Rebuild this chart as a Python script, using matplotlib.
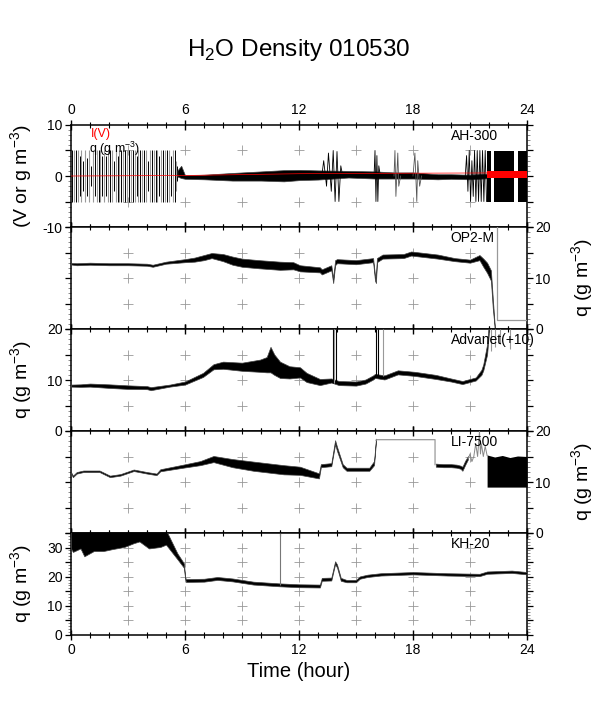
import numpy as np
import matplotlib
matplotlib.use("Agg")
import matplotlib.pyplot as plt
from matplotlib.ticker import MultipleLocator, FuncFormatter

plt.rcParams['font.family'] = ['Liberation Sans', 'DejaVu Sans']
plt.rcParams['mathtext.fontset'] = 'custom'
plt.rcParams['mathtext.rm'] = 'Liberation Sans'

# ---------------- data ----------------
title = "H$_2$O Density 010530"
panel_names = ["AH-300", "OP2-M", "Advanet(+10)", "LI-7500", "KH-20"]
x_ticks = [0, 6, 12, 18, 24]

# AH-300 : saturated oscillation 0-5.6 h (black and grey strokes)
ah_osc_t_black = [0.05, 0.25, 0.45, 0.65, 0.85, 1.05, 1.25, 1.45, 1.65, 1.85, 2.05, 2.25, 2.45, 2.65,
                  2.85, 3.05, 3.25, 3.45, 3.65, 3.85, 4.05, 4.25, 4.45, 4.65, 4.85, 5.05, 5.25, 5.45, 5.6]
ah_osc_lo_black = [-5, -5, -4, -3, -4, -2, -4, -5, -4, -4, -5, -3, -5, -5,
                   -5, -5, -5, -4, -5, -5, -3, -5, -5, -4, -5, -5, -4, -5, -1]
ah_osc_hi_black = [5, 5, 4, 3, 3.5, 2, 4.5, 5, 4, 4, 5, 3, 4, 5,
                   5, 5, 5, 4, 5, 5, 3, 5, 5, 4, 5, 5, 4, 5, 2]
ah_osc_t_grey = [0.15, 0.35, 0.55, 0.75, 0.95, 1.15, 1.35, 1.55, 1.75, 1.95, 2.15, 2.35, 2.55, 2.75,
                 2.95, 3.15, 3.35, 3.55, 3.75, 3.95, 4.15, 4.35, 4.55, 4.75, 4.95, 5.15, 5.35, 5.52]
ah_osc_lo_grey = [-5, -5, -5, -5, -5, -5, -5, -5, -5, -5, -5, -5, -5, -5,
                  -5, -5, -5, -5, -5, -5, -5, -5, -5, -5, -5, -5, -5, -3]
ah_osc_hi_grey = [5, 5, 5, 5, 5, 5, 5, 5, 5, 5, 5, 5, 5, 5,
                  5, 5, 5, 5, 5, 5, 5, 5, 5, 5, 5, 5, 5, 3]
# AH-300 : noise band
ah_t = [5.6, 5.8, 6.0, 7.0, 8.5, 10.0, 11.2, 12.05, 13.0, 14.6, 16.0, 17.0, 18.0, 19.3, 20.0, 21.0, 21.9]
ah_c = [0.5, 0.8, -0.2, -0.2, -0.15, 0.0, 0.05, 0.2, 0.2, 0.35, 0.2, 0.1, 0.1, -0.15, -0.1, -0.2, 0.0]
ah_h = [0.6, 1.2, 0.35, 0.45, 0.75, 0.9, 1.1, 1.0, 0.9, 0.65, 0.7, 0.6, 0.6, 0.5, 0.45, 0.45, 0.45]
# AH-300 : spike bursts
ah_b1_t = [13.2, 13.3, 13.45, 13.55, 13.7, 13.8, 13.9, 14.0, 14.1, 14.2, 14.3]
ah_b1_v = [0, 3, -2, 4.5, -3, 5, -5, 4.8, -5, 2, 0]
ah_b2_t = [15.95, 16.0, 16.05, 16.1, 16.15, 16.2, 16.28]
ah_b2_v = [0, 5, -5, 4, -5, 2, 0]
ah_b3_t = [17.0, 17.05, 17.1, 17.2, 17.25, 17.35]
ah_b3_v = [0, 5, -4, 4.5, -2, 0]
ah_b4_t = [18.0, 18.1, 18.2, 18.25, 18.35, 18.45]
ah_b4_v = [0, 4.5, -5, 3, -2, 0]
ah_b5_t = [20.75, 20.82, 20.89, 20.96, 21.03, 21.10, 21.17, 21.24, 21.31, 21.38,
           21.45, 21.52, 21.59, 21.66, 21.73, 21.80, 21.87]
ah_b5_v = [0, 4, -3, 5, -5, 3, -4, 5, -5, 5, -5, 5, -5, 5, -5, 5, -5]
ah_block_start = [21.9, 22.25, 23.5]
ah_block_end = [22.1, 23.3, 24.0]
# AH-300 : I(V) red
iv_t = [0, 6, 12, 18, 21.9]
iv_v = [0.0, 0.1, 0.45, 0.55, 0.6]
iv_thick_t = [21.9, 24.0]
iv_thick_lo = [-0.3, -0.3]
iv_thick_hi = [1.0, 1.0]

# OP2-M
op_t = [0, 0.3, 1, 2, 3, 4, 4.3, 5, 6, 6.5, 7, 7.4, 8, 8.5, 9, 9.9, 11, 11.7, 12.05, 13.1,
        13.2, 13.7, 13.8, 13.9, 14.0, 15, 15.9, 16.0, 16.05, 16.1, 16.4, 17.5, 17.9, 19.3,
        20.2, 21.0, 21.5, 21.7, 21.9, 22.1, 22.2, 22.3]
op_c = [12.8, 12.7, 12.8, 12.7, 12.7, 12.6, 12.4, 13.0, 13.4, 13.6, 14.0, 14.4, 14.0, 13.4,
        13.0, 12.7, 12.4, 12.4, 11.9, 11.6, 11.2, 12.0, 9.5, 13.0, 13.3, 13.1, 13.5, 10.0,
        9.5, 13.5, 14.2, 14.3, 14.8, 14.2, 13.6, 13.3, 14.0, 13.0, 12.0, 10.5, 5.0, 0.5]
op_h = [0.15, 0.2, 0.2, 0.2, 0.2, 0.2, 0.2, 0.2, 0.3, 0.4, 0.5, 0.5, 0.7, 0.8, 0.8, 0.8,
        0.8, 0.7, 0.6, 0.5, 0.5, 0.5, 0.5, 0.5, 0.4, 0.4, 0.4, 0.5, 0.5, 0.4, 0.4, 0.4,
        0.4, 0.4, 0.3, 0.3, 0.5, 0.8, 1.0, 1.0, 1.0, 0.3]
op_grey_t = [22.4, 22.4, 24.0]
op_grey_v = [20.0, 1.7, 1.7]

# Advanet (+10)
ad_t = [0, 0.5, 1, 2, 3, 4, 4.2, 5.2, 6, 6.95, 7.5, 8, 9, 9.95, 10.3, 10.5, 10.7, 11.0,
        11.5, 12.05, 12.4, 13.1, 13.7, 14.1, 15, 15.5, 15.9, 16.0, 16.5, 17.2, 18.1, 19.2,
        20.0, 20.6, 21.3, 21.6, 21.7, 21.9, 22.0]
ad_c = [8.9, 8.9, 9.0, 8.8, 8.6, 8.5, 8.3, 8.9, 9.4, 11.0, 12.6, 12.9, 12.6, 12.8, 13.0,
        14.0, 13.0, 12.0, 11.5, 11.5, 10.5, 9.6, 9.9, 9.4, 9.3, 9.7, 10.5, 10.8, 10.5, 11.5,
        11.2, 10.6, 10.0, 9.5, 10.2, 11.5, 12.5, 16.0, 20.5]
ad_h = [0.2, 0.25, 0.3, 0.35, 0.35, 0.3, 0.3, 0.2, 0.3, 0.4, 0.5, 0.7, 0.8, 1.2, 1.5, 2.5,
        2.0, 1.6, 1.2, 1.0, 0.9, 0.6, 0.4, 0.4, 0.4, 0.4, 0.4, 0.4, 0.4, 0.4, 0.4, 0.4, 0.3,
        0.3, 0.3, 0.5, 0.6, 1.0, 1.0]
ad_spike_t = [13.8, 13.95, 16.05, 16.15]
ad_spike_lo = [9.5, 9.5, 10.8, 10.8]
ad_spike_hi = [20, 20, 20, 20]
ad_grey_t = [13.85, 16.4, 22.1, 22.3, 22.6, 23.1]
ad_grey_lo = [9.5, 10.8, 15.7, 16.5, 17.0, 16.0]
ad_grey_hi = [20, 20, 20, 20, 20, 20]

# LI-7500
li_t = [0, 0.1, 0.3, 0.65, 1.5, 2.05, 2.6, 3.3, 4.0, 4.5, 4.7, 5.9, 6.8, 7.5, 8.5, 9.6,
        11.2, 12.05, 13.05, 13.15, 13.7, 13.9, 14.0, 14.3, 14.5, 15.7, 15.95, 16.05]
li_c = [11.8, 11.1, 11.8, 12.1, 12.1, 11.1, 11.4, 12.3, 11.8, 11.5, 12.3, 13.1, 13.7, 14.5,
        13.7, 13.1, 12.4, 12.2, 11.2, 13.2, 13.4, 17.8, 16.5, 13.2, 12.5, 12.5, 13.7, 18.2]
li_h = [0.15, 0.15, 0.15, 0.15, 0.15, 0.15, 0.15, 0.15, 0.15, 0.15, 0.2, 0.3, 0.4, 0.6,
        0.8, 0.9, 0.9, 0.8, 0.5, 0.3, 0.3, 0.4, 0.4, 0.3, 0.3, 0.3, 0.4, 0.3]
li_grey_t = [16.05, 16.1, 19.16, 19.16]
li_grey_v = [18.2, 18.3, 18.3, 13.4]
li_b2_t = [19.2, 19.6, 20.0, 20.3, 20.5, 20.6, 20.75, 20.9]
li_b2_c = [13.3, 13.2, 13.2, 13.1, 12.9, 12.6, 13.8, 14.8]
li_b2_h = [0.3, 0.3, 0.3, 0.3, 0.3, 0.4, 0.4, 0.3]
li_z_t = [20.9, 21.0, 21.1, 21.2, 21.3, 21.4, 21.5, 21.55, 21.6, 21.7, 21.8, 21.9]
li_z_v = [14.5, 15.5, 14.0, 15.0, 17.5, 15.0, 20.0, 15.5, 17.5, 15.0, 17.0, 15.2]
li_block_t = [21.9, 22.3, 22.7, 23.1, 23.5, 24.0]
li_block_lo = [9.0, 9.0, 9.0, 9.0, 9.0, 9.0]
li_block_hi = [15.3, 14.9, 15.2, 14.8, 15.1, 15.0]

# KH-20
kh_t = [0, 0.1, 0.5, 0.7, 1.2, 1.7, 2.2, 2.8, 3.3, 3.6, 4.1, 4.7, 5.0, 5.3, 5.6, 5.95, 6.0,
        6.05, 7.0, 7.7, 8.5, 9.6, 11.0, 12.0, 13.1, 13.2, 13.7, 13.9, 14.0, 14.2, 14.5, 15.0,
        15.2, 15.6, 16.3, 18.0, 19.8, 21.5, 21.9, 23.2, 24.0]
kh_lo = [29.7, 28.5, 29.7, 27.0, 28.8, 28.8, 29.5, 30.2, 31.5, 32.1, 29.7, 30.2, 31.0, 28.5,
         26.0, 23.0, 19.5, 18.2, 18.3, 18.9, 18.4, 17.3, 16.7, 16.4, 16.3, 18.6, 18.7, 24.3,
         23.2, 18.6, 18.1, 18.1, 19.3, 19.9, 20.4, 20.8, 20.4, 20.2, 21.0, 21.3, 20.8]
kh_hi = [36, 36, 36, 36, 36, 36, 36, 36, 36, 36, 36, 36, 36, 32.0, 28.0, 24.5, 20.0, 19.2,
         19.3, 19.9, 19.4, 18.3, 17.7, 17.4, 17.3, 19.6, 19.7, 25.3, 24.2, 19.6, 18.9, 18.9,
         20.1, 20.7, 21.2, 21.6, 21.2, 21.0, 21.8, 22.1, 21.6]
kh_grey_t = [11.0]
kh_grey_lo = [17.2]
kh_grey_hi = [35]

# ---------------- figure ----------------
W, H = 598, 708
fig = plt.figure(figsize=(W / 100, H / 100), dpi=100)
left_px, right_px, top_px, ph = 71, 527, 125, 102
axes = []
for i in range(5):
    b = (H - top_px - ph * (i + 1)) / H
    ax = fig.add_axes([left_px / W, b, (right_px - left_px) / W, ph / H])
    axes.append(ax)

ylims = [(-10, 10), (0, 20), (0, 20), (0, 20), (0, 35)]
label_side = ['left', 'right', 'left', 'right', 'left']
ylabels = ["(V or g m$^{-3}$)", "q (g m$^{-3}$)", "q (g m$^{-3}$)", "q (g m$^{-3}$)", "q (g m$^{-3}$)"]
cross_y = [[-5, 5], [5, 10, 15], [5, 10, 15], [5, 10, 15], [5, 10, 15, 20, 25, 30]]
cross_x = [3, 6, 9, 12, 15, 18, 21]

fmt10 = FuncFormatter(lambda v, p: ("%d" % v) if abs(v % 10) < 1e-6 else "")

for i, ax in enumerate(axes):
    ax.set_xlim(0, 24)
    ax.set_ylim(*ylims[i])
    for s in ax.spines.values():
        s.set_linewidth(1.1)
    ax.set_xticks(x_ticks)
    ax.xaxis.set_minor_locator(MultipleLocator(1))
    ax.yaxis.set_major_locator(MultipleLocator(5))
    ax.yaxis.set_minor_locator(MultipleLocator(1))
    ax.yaxis.set_major_formatter(fmt10)
    ax.tick_params(axis='x', which='major', direction='inout', length=7, width=1.0,
                   top=True, bottom=True, labelbottom=(i == 4), labeltop=(i == 0),
                   labelsize=10, pad=2)
    ax.tick_params(axis='x', which='minor', direction='inout', length=4, width=0.8,
                   top=True, bottom=True)
    ax.tick_params(axis='y', which='major', direction='out', length=4, width=0.9,
                   left=True, right=True,
                   labelleft=(label_side[i] == 'left'), labelright=(label_side[i] == 'right'),
                   labelsize=10, pad=2)
    ax.tick_params(axis='y', which='minor', direction='out', length=2.5, width=0.6,
                   left=True, right=True, color='#777777')
    for yv in cross_y[i]:
        ax.plot(cross_x, [yv] * len(cross_x), linestyle='none', marker='+',
                markersize=7, markeredgewidth=0.6, color='#999999', zorder=1)
    ax.text(0.833, 0.895, panel_names[i], transform=ax.transAxes, fontsize=10,
            ha='left', va='center', zorder=6)
    ax.set_ylabel(ylabels[i], fontsize=14)
    if label_side[i] == 'left':
        ax.yaxis.set_label_position('left')
        ax.yaxis.set_label_coords(-0.079, 0.5)
    else:
        ax.yaxis.set_label_position('right')
        ax.yaxis.set_label_coords(1.094, 0.5)
        ax.yaxis.label.set_rotation(90)

def band(ax, t, c, h, color='k'):
    c = np.asarray(c, float)
    h = np.asarray(h, float)
    ax.fill_between(t, c - h, c + h, facecolor=color, edgecolor='#444444', linewidth=0.5, zorder=3)

# Panel 1: AH-300
ax = axes[0]
ax.vlines(ah_osc_t_grey, ah_osc_lo_grey, ah_osc_hi_grey, color='#9a9a9a', lw=0.8, zorder=2)
ax.vlines(ah_osc_t_black, ah_osc_lo_black, ah_osc_hi_black, color='k', lw=0.7, zorder=3)
band(ax, ah_t, ah_c, ah_h)
for bt, bv, col in [(ah_b1_t, ah_b1_v, 'k'), (ah_b2_t, ah_b2_v, 'k'), (ah_b3_t, ah_b3_v, '#555555'),
                    (ah_b4_t, ah_b4_v, '#555555'), (ah_b5_t, ah_b5_v, 'k')]:
    ax.plot(bt, bv, color=col, lw=0.6, zorder=3)
for s, e in zip(ah_block_start, ah_block_end):
    ax.fill_between([s, e], [-5, -5], [5, 5], color='k', lw=0, zorder=3)
ax.plot(iv_t, iv_v, color='red', lw=0.5, zorder=4)
ax.fill_between(iv_thick_t, iv_thick_lo, iv_thick_hi, color='red', lw=0, zorder=4)
ax.text(0.044, 0.915, "I(V)", color='red', transform=ax.transAxes, fontsize=9, va='center', zorder=6)
ax.text(0.040, 0.765, "q (g m$^{-3}$)", color='k', transform=ax.transAxes, fontsize=9, va='center', zorder=6)

# Panel 2: OP2-M
ax = axes[1]
band(ax, op_t, op_c, op_h)
ax.plot(op_grey_t, op_grey_v, color='#999999', lw=0.9, zorder=3)

# Panel 3: Advanet
ax = axes[2]
band(ax, ad_t, ad_c, ad_h)
ax.vlines(ad_spike_t, ad_spike_lo, ad_spike_hi, color='k', lw=0.8, zorder=3)
ax.vlines(ad_grey_t, ad_grey_lo, ad_grey_hi, color='#999999', lw=0.8, zorder=3)

# Panel 4: LI-7500
ax = axes[3]
band(ax, li_t, li_c, li_h)
ax.plot(li_grey_t, li_grey_v, color='#999999', lw=0.9, zorder=3)
band(ax, li_b2_t, li_b2_c, li_b2_h)
ax.plot(li_z_t, li_z_v, color='#888888', lw=0.7, zorder=3)
ax.fill_between(li_block_t, li_block_lo, li_block_hi, color='k', lw=0, zorder=3)

# Panel 5: KH-20
ax = axes[4]
ax.fill_between(kh_t, kh_lo, kh_hi, facecolor='k', edgecolor='#444444', linewidth=0.5, zorder=3)
ax.vlines(kh_grey_t, kh_grey_lo, kh_grey_hi, color='#777777', lw=0.8, zorder=3)
ax.set_xlabel("Time (hour)", fontsize=14.5, labelpad=4)

fig.text(0.5, 1 - 50 / H, title, ha='center', va='center', fontsize=17.5)

fig.savefig("out.png", dpi=100)
